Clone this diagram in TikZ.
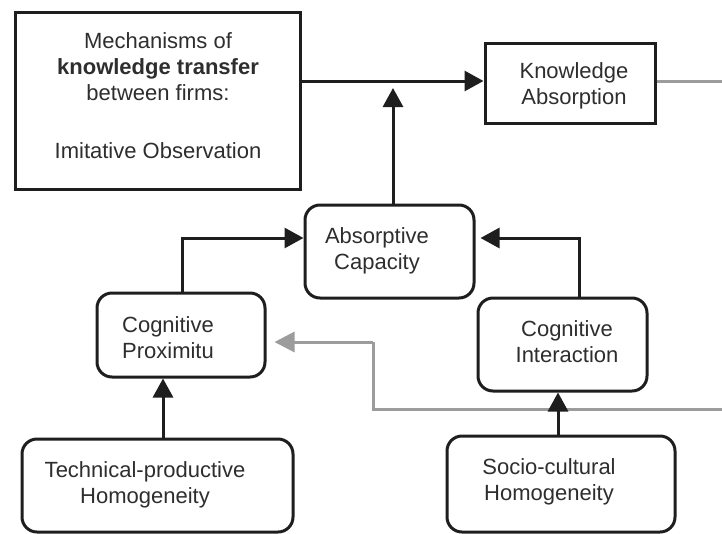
\documentclass[tikz,border=0pt]{standalone}
\usepackage{fontspec}
\setmainfont{Liberation Sans}
\usetikzlibrary{arrows.meta}
\definecolor{ink}{HTML}{2E2E2E}
\definecolor{edge}{HTML}{1E1E1E}
\definecolor{greyline}{HTML}{9C9C9C}
\begin{document}
\begin{tikzpicture}[x=1pt,y=-1pt,
  frame/.style={draw=edge, line width=3pt, fill=white, inner sep=0pt},
  rframe/.style={frame, rounded corners=15pt},
  label/.style={text=ink, align=center, inner sep=0pt,
    font=\fontsize{22}{26}\selectfont},
  link/.style={draw=edge, line width=3pt, -{Triangle[length=19pt,width=20pt]}},
  glink/.style={draw=greyline, line width=3pt}
]
\useasboundingbox (0,0) rectangle (722,533);
\fill[white] (0,0) rectangle (722,533);
\clip (0,0) rectangle (722,533);

% boxes
\node[frame, minimum width=285pt, minimum height=177pt] (mech) at (157.5,100.5) {};
\node[frame, minimum width=170pt, minimum height=80pt] (ka) at (570,83) {};
\node[rframe, minimum width=169pt, minimum height=93pt] (ac) at (389.5,251.5) {};
\node[rframe, minimum width=168pt, minimum height=84pt] (cp) at (181,335) {};
\node[rframe, minimum width=169pt, minimum height=93pt] (ci) at (562.5,344.5) {};
\node[rframe, minimum width=271pt, minimum height=93pt] (tph) at (157.5,485.5) {};
\node[rframe, minimum width=228pt, minimum height=96pt] (sch) at (561,484) {};

% texts
\node[label] (mechtxt) at (158,96) {Mechanisms of\\ \textbf{knowledge transfer}\\ between firms:\\[32pt] Imitative Observation};
\node[label] (katxt) at (574,86) {Knowledge\\ Absorption};
\node[label] (actxt) at (377,251) {Absorptive\\ Capacity};
\node[label] (cptxt) at (168,338) {Cognitive\\ Proximitu};
\node[label] (citxt) at (567,342) {Cognitive\\ Interaction};
\node[label] (tphtxt) at (145,485) {Technical-productive\\ Homogeneity};
\node[label] (schtxt) at (549,482) {Socio-cultural\\ Homogeneity};

% connector anchors
\coordinate (mechout) at ([yshift=19.5pt]mech.east);
\coordinate (join) at (393,88);
\coordinate (acup) at (join |- ac.north);
\coordinate (cpup) at ([xshift=1pt]cp.north);
\coordinate (acleft) at ([yshift=13.5pt]ac.west);
\coordinate (ciup) at ([xshift=16.5pt]ci.north);
\coordinate (acright) at ([yshift=13.5pt]ac.east);
\coordinate (tphup) at ([xshift=5.5pt]tph.north);
\coordinate (schup) at ([xshift=-3pt]sch.north);
\coordinate (kaout) at ([yshift=2pt]ka.east);
\coordinate (gA) at (745,81);
\coordinate (gB) at (745,409);
\coordinate (gC) at (373,409);
\coordinate (gD) at (373,342);

% grey feedback loop (drawn beneath the black connectors)
\draw[glink] (kaout) -- (gA) -- (gB) -- (gC) -- (gD);
\draw[glink, -{Triangle[length=20pt,width=20pt]}, shorten >=8pt] (gD) -- (gD -| cp.east);

% black connectors
\draw[link] (mechout) -- (mechout -| ka.west);
\draw[link] (acup) -- (join);
\draw[link] (cpup) |- (acleft);
\draw[link, shorten >=5pt] (ciup) |- (acright);
\draw[link] (tphup) -- (tphup |- cp.south);
\draw[link] (schup) -- (schup |- ci.south);
\end{tikzpicture}
\end{document}
